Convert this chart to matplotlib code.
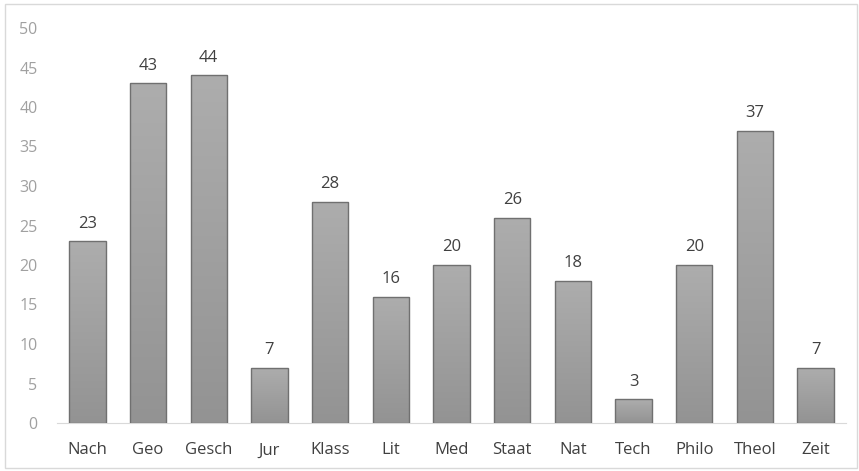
import numpy as np
import matplotlib
matplotlib.use("Agg")
import matplotlib.pyplot as plt
from matplotlib.colors import LinearSegmentedColormap
from matplotlib.patches import Rectangle

categories = ["Nach", "Geo", "Gesch", "Jur", "Klass", "Lit", "Med",
              "Staat", "Nat", "Tech", "Philo", "Theol", "Zeit"]
values = [23, 43, 44, 7, 28, 16, 20, 26, 18, 3, 20, 37, 7]
y_ticks = [0, 5, 10, 15, 20, 25, 30, 35, 40, 45, 50]

plt.rcParams['font.family'] = ['Open Sans', 'DejaVu Sans']

fig = plt.figure(figsize=(8.59, 4.71), dpi=100)
ax = fig.add_axes([57 / 859, 1 - 423 / 471, (846 - 57) / 859, (423 - 28) / 471])

# light frame around the whole chart
fig.patches.append(Rectangle((5 / 859, 3 / 471), 852 / 859, 464 / 471,
                             transform=fig.transFigure, fill=False,
                             edgecolor='#d9d9d9', linewidth=1))

x = np.arange(len(categories))
bars = ax.bar(x, values, width=0.6, color='none', edgecolor='#707070',
              linewidth=1, zorder=3)

# vertical gradient in each bar
cmap = LinearSegmentedColormap.from_list('g', ['#939393', '#adadad'])
grad = np.linspace(0, 1, 256).reshape(-1, 1)
for b in bars:
    x0, y0 = b.get_x(), b.get_y()
    w, h = b.get_width(), b.get_height()
    im = ax.imshow(grad, cmap=cmap, origin='lower', aspect='auto',
                   extent=[x0, x0 + w, y0, y0 + h], zorder=2)
    im.set_clip_path(b)

for xi, v in zip(x, values):
    ax.annotate(str(v), (xi, v), xytext=(0, 7), textcoords='offset points',
                ha='center', va='bottom', fontsize=12, color='#404040')

ax.set_xlim(-0.5, len(categories) - 0.5)
ax.set_ylim(0, 50)
ax.set_yticks(y_ticks)
ax.set_xticks(x)
ax.set_xticklabels(categories)

for s in ['top', 'right', 'left']:
    ax.spines[s].set_visible(False)
ax.spines['bottom'].set_color('#d9d9d9')
ax.tick_params(axis='both', length=0)
ax.tick_params(axis='x', labelsize=12, labelcolor='#404040', pad=14)
ax.tick_params(axis='y', labelsize=11.5, labelcolor='#a0a0a0', pad=14)

fig.savefig('out.png', dpi=100)
